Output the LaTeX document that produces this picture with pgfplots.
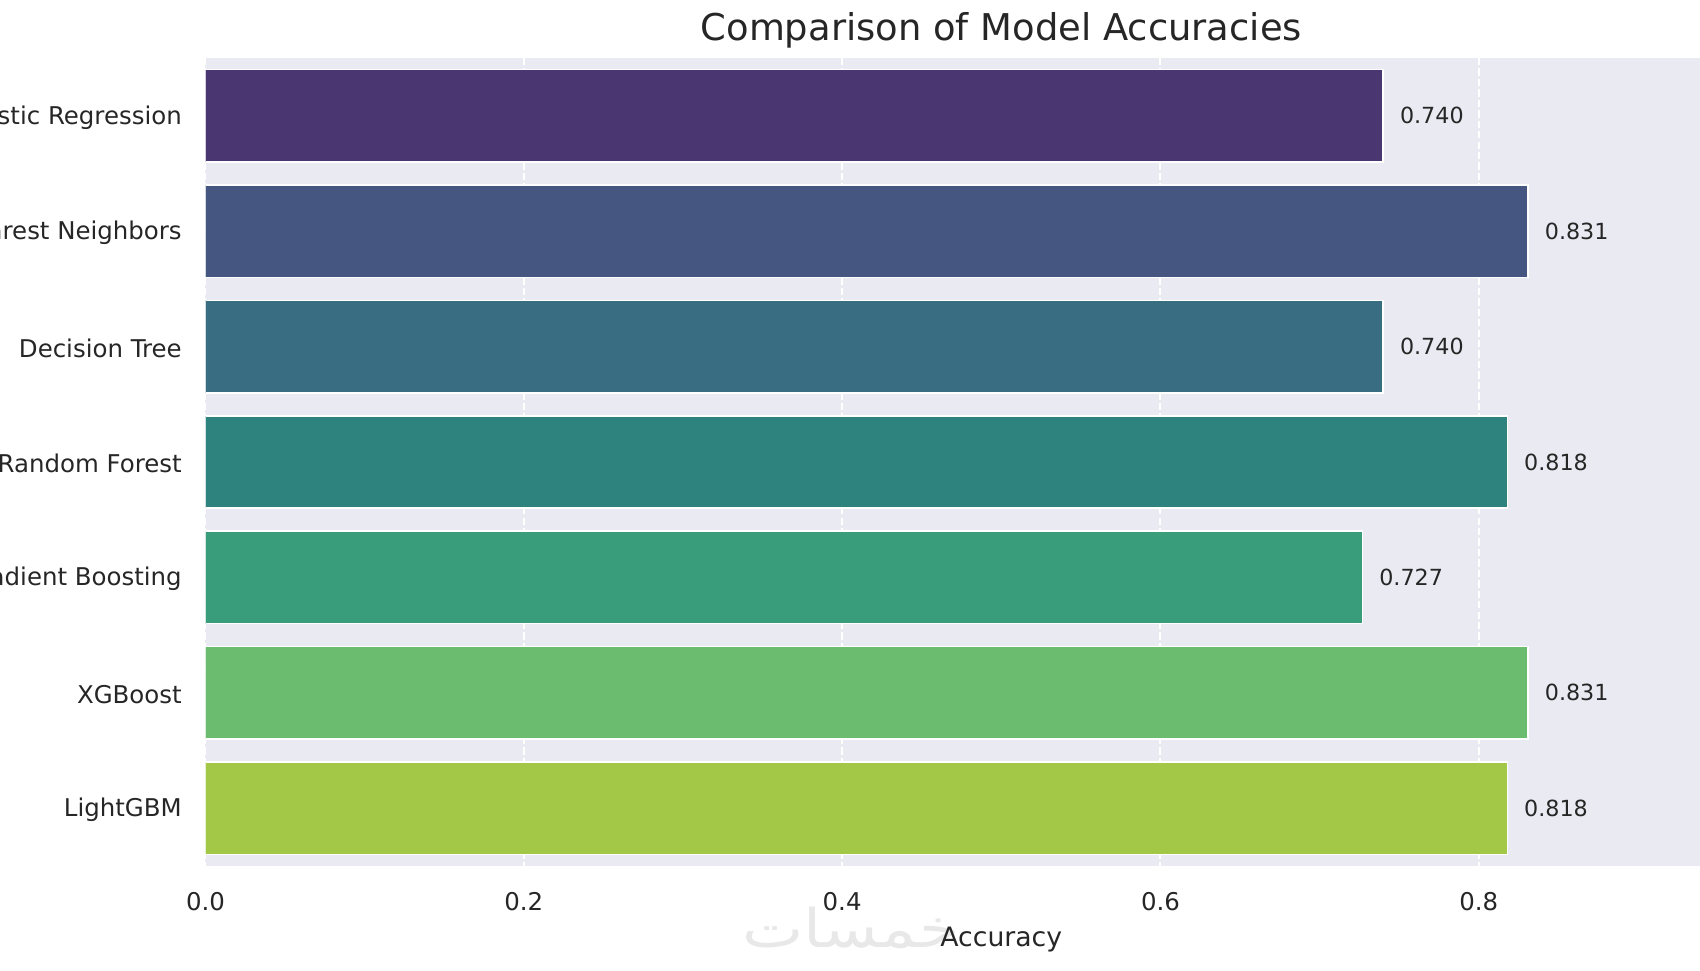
\documentclass[border=0pt]{standalone}
\usepackage{fontspec}
\setmainfont{DejaVu Sans}
\newfontfamily\arabicfont[Script=Arabic]{DejaVu Sans}
\TeXXeTstate=1
\usepackage{pgfplots}
\pgfplotsset{compat=1.18}
\pgfkeys{/pgf/number format/assume math mode=true}
\definecolor{bg}{HTML}{EAEAF2}
\definecolor{txt}{HTML}{262626}
\definecolor{c1}{RGB}{74,55,113}
\definecolor{c2}{RGB}{69,86,129}
\definecolor{c3}{RGB}{56,109,130}
\definecolor{c4}{RGB}{47,131,127}
\definecolor{c5}{RGB}{57,157,123}
\definecolor{c6}{RGB}{107,188,110}
\definecolor{c7}{RGB}{163,199,70}
\begin{document}
\begin{tikzpicture}
\node[anchor=base, text=black!9, font=\fontsize{24}{28}\selectfont\arabicfont, xscale=1.22] at (290.5pt,-36.5pt) {\beginR خمسات\endR};
\begin{axis}[
  scale only axis, width=716.2pt, height=363.6pt,
  xmin=0, xmax=1, ymin=-0.5, ymax=6.5, y dir=reverse,
  axis background/.style={fill=bg},
  axis line style={draw=none},
  major tick length=0pt,
  xtick={0,0.2,0.4,0.6,0.8},
  xticklabels={0.0,0.2,0.4,0.6,0.8},
  ytick={0,1,2,3,4,5,6},
  yticklabels={Logistic Regression,K-Nearest Neighbors,Decision Tree,Random Forest,Gradient Boosting,XGBoost,LightGBM},
  xmajorgrids, ymajorgrids=false,
  major grid style={white, line width=0.9pt, dash pattern=on 3.3pt off 1.4pt},
  tick label style={font=\fontsize{11}{13}\selectfont, text=txt},
  xticklabel style={anchor=north, inner sep=0pt, yshift=-11.6pt},
  yticklabel style={anchor=east, inner sep=0pt, xshift=-10.5pt, yshift=-0.8pt},
  title={Comparison of Model Accuracies},
  title style={font=\fontsize{16.6}{19}\selectfont, text=txt, at={(0.5,1)}, anchor=base, yshift=2pt},
  xlabel={Accuracy},
  xlabel style={font=\fontsize{12}{14}\selectfont, text=txt, at={(0.5,0)}, anchor=base, yshift=-36pt},
  mybar/.style={xbar, bar width=0.8, bar shift=0pt, draw=white, line width=0.7pt, fill=#1},
  nodes near coords, point meta=x,
  nodes near coords align=horizontal,
  nodes near coords style={anchor=west, inner sep=0pt, xshift=7.2pt, font=\fontsize{10}{12}\selectfont, text=txt,
    /pgf/number format/.cd, fixed, fixed zerofill, precision=3},
]
\addplot[mybar=c1] coordinates {(0.740,0)};
\addplot[mybar=c2] coordinates {(0.831,1)};
\addplot[mybar=c3] coordinates {(0.740,2)};
\addplot[mybar=c4] coordinates {(0.818,3)};
\addplot[mybar=c5] coordinates {(0.727,4)};
\addplot[mybar=c6] coordinates {(0.831,5)};
\addplot[mybar=c7] coordinates {(0.818,6)};
\end{axis}
\pgfresetboundingbox
\path[use as bounding box] (-92.475pt,-46.8pt) rectangle (672.525pt,389.7pt);
\end{tikzpicture}
\end{document}
